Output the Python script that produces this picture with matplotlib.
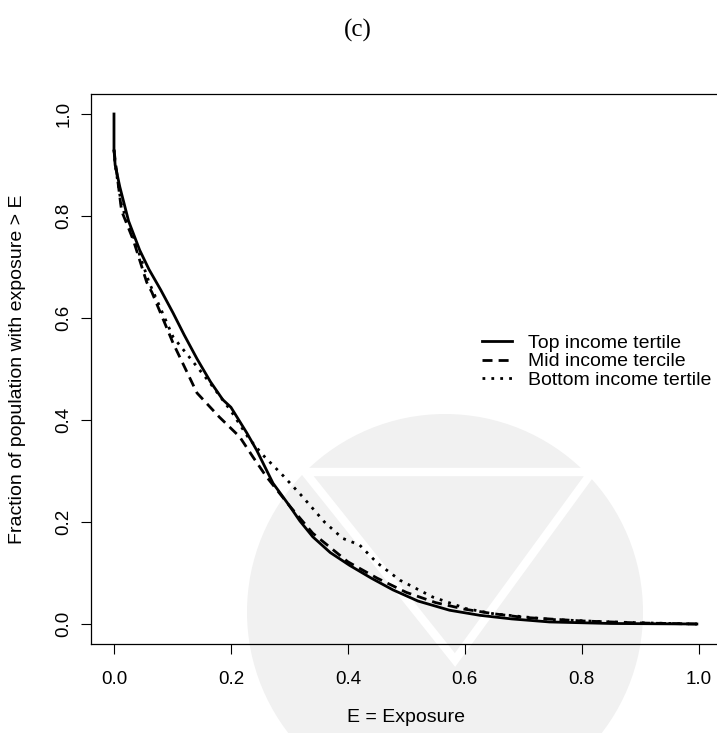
import matplotlib
matplotlib.use("Agg")
import matplotlib.pyplot as plt
from matplotlib.lines import Line2D
from matplotlib.patches import Circle, Polygon

# ---- data ----
top_x = [0.0, 0.0, 0.002, 0.010, 0.025, 0.044, 0.060, 0.080, 0.101, 0.120, 0.142,
         0.165, 0.186, 0.200, 0.227, 0.244, 0.272, 0.300, 0.318, 0.340, 0.370,
         0.403, 0.440, 0.477, 0.520, 0.574, 0.626, 0.680, 0.745, 0.850, 0.997]
top_y = [1.0, 0.93, 0.90, 0.857, 0.79, 0.733, 0.695, 0.655, 0.610, 0.567, 0.520,
         0.475, 0.440, 0.425, 0.375, 0.341, 0.276, 0.232, 0.202, 0.171, 0.140,
         0.115, 0.090, 0.067, 0.045, 0.027, 0.017, 0.010, 0.004, 0.001, 0.0]

mid_x = [0.0, 0.002, 0.013, 0.033, 0.056, 0.065, 0.101, 0.142, 0.180, 0.215,
         0.238, 0.260, 0.300, 0.340, 0.400, 0.450, 0.500, 0.550, 0.600, 0.650,
         0.700, 0.800, 0.900, 0.997]
mid_y = [0.93, 0.91, 0.81, 0.753, 0.67, 0.65, 0.551, 0.453, 0.406, 0.367,
         0.327, 0.290, 0.232, 0.178, 0.122, 0.090, 0.062, 0.042, 0.029, 0.020,
         0.013, 0.006, 0.002, 0.0]

bot_x = [0.0, 0.002, 0.013, 0.033, 0.060, 0.101, 0.164, 0.200, 0.230, 0.255,
         0.290, 0.323, 0.360, 0.391, 0.420, 0.450, 0.489, 0.545, 0.603, 0.650,
         0.745, 0.850, 0.916, 0.997]
bot_y = [0.93, 0.90, 0.82, 0.76, 0.67, 0.563, 0.473, 0.418, 0.365, 0.331,
         0.290, 0.249, 0.200, 0.168, 0.155, 0.120, 0.086, 0.053, 0.030, 0.020,
         0.009, 0.004, 0.002, 0.0]

labels = ["Top income tertile", "Mid income tercile", "Bottom income tertile"]
xticks = [0.0, 0.2, 0.4, 0.6, 0.8, 1.0]
yticks = [0.0, 0.2, 0.4, 0.6, 0.8, 1.0]

W, H = 717, 733
fig = plt.figure(figsize=(W / 100, H / 100), dpi=100)
plt.rcParams['font.family'] = ['Liberation Sans', 'DejaVu Sans']

# faint watermark in background
bg = fig.add_axes([0, 0, 1, 1], zorder=0)
bg.set_xlim(0, W)
bg.set_ylim(H, 0)
bg.axis('off')
bg.add_patch(Circle((445, 612), 198, facecolor='#f1f1f1', edgecolor='none'))
bg.add_patch(Polygon([(305, 472), (592, 472), (455, 660)], closed=True,
                     facecolor='none', edgecolor='white', lw=6))

ax = fig.add_axes([90.6 / W, 1 - 644.4 / H, (722 - 90.6) / W, (644.4 - 93.6) / H], zorder=1)
ax.patch.set_alpha(0)

lw = 2.0
ax.plot(top_x, top_y, color='black', lw=lw, solid_joinstyle='round', label=labels[0])
ax.plot(mid_x, mid_y, color='black', lw=lw, linestyle=(0, (3.6, 2.2)), label=labels[1])
ax.plot(bot_x, bot_y, color='black', lw=lw, linestyle=(0, (1, 2.2)), label=labels[2])

ax.set_xlim(-0.04, 1.04)
ax.set_ylim(-0.04, 1.04)
ax.set_xticks(xticks)
ax.set_yticks(yticks)
ax.set_xticklabels([f"{v:.1f}" for v in xticks])
ax.set_yticklabels([f"{v:.1f}" for v in yticks], rotation=90, va='center')
ax.tick_params(direction='out', length=7.2, width=0.8, labelsize=13.5, colors='black')
ax.tick_params(axis='x', pad=12)
ax.tick_params(axis='y', pad=6)
for s in ax.spines.values():
    s.set_linewidth(0.9)

handles = [Line2D([], [], color='black', lw=lw),
           Line2D([], [], color='black', lw=lw, linestyle=(0, (3.6, 2.2))),
           Line2D([], [], color='black', lw=lw, linestyle=(0, (1, 2.2)))]
ax.legend(handles, labels, loc='upper left', bbox_to_anchor=(482 / W, 1 - 334 / H),
          bbox_transform=fig.transFigure, frameon=False, fontsize=14,
          handlelength=1.55, handletextpad=0.82, labelspacing=0.06, borderpad=0,
          borderaxespad=0)

fig.text(18 / W, 1 - 369 / H, "Fraction of population with exposure > E",
         rotation=90, ha='center', va='center', fontsize=14)
fig.text(406 / W, 1 - 718 / H, "E = Exposure", ha='center', va='center', fontsize=14)
fig.text(358 / W, 1 - 30 / H, "(c)", ha='center', va='center', fontsize=18,
         family=['Liberation Serif', 'DejaVu Serif'])

fig.savefig("out.png", dpi=100)
